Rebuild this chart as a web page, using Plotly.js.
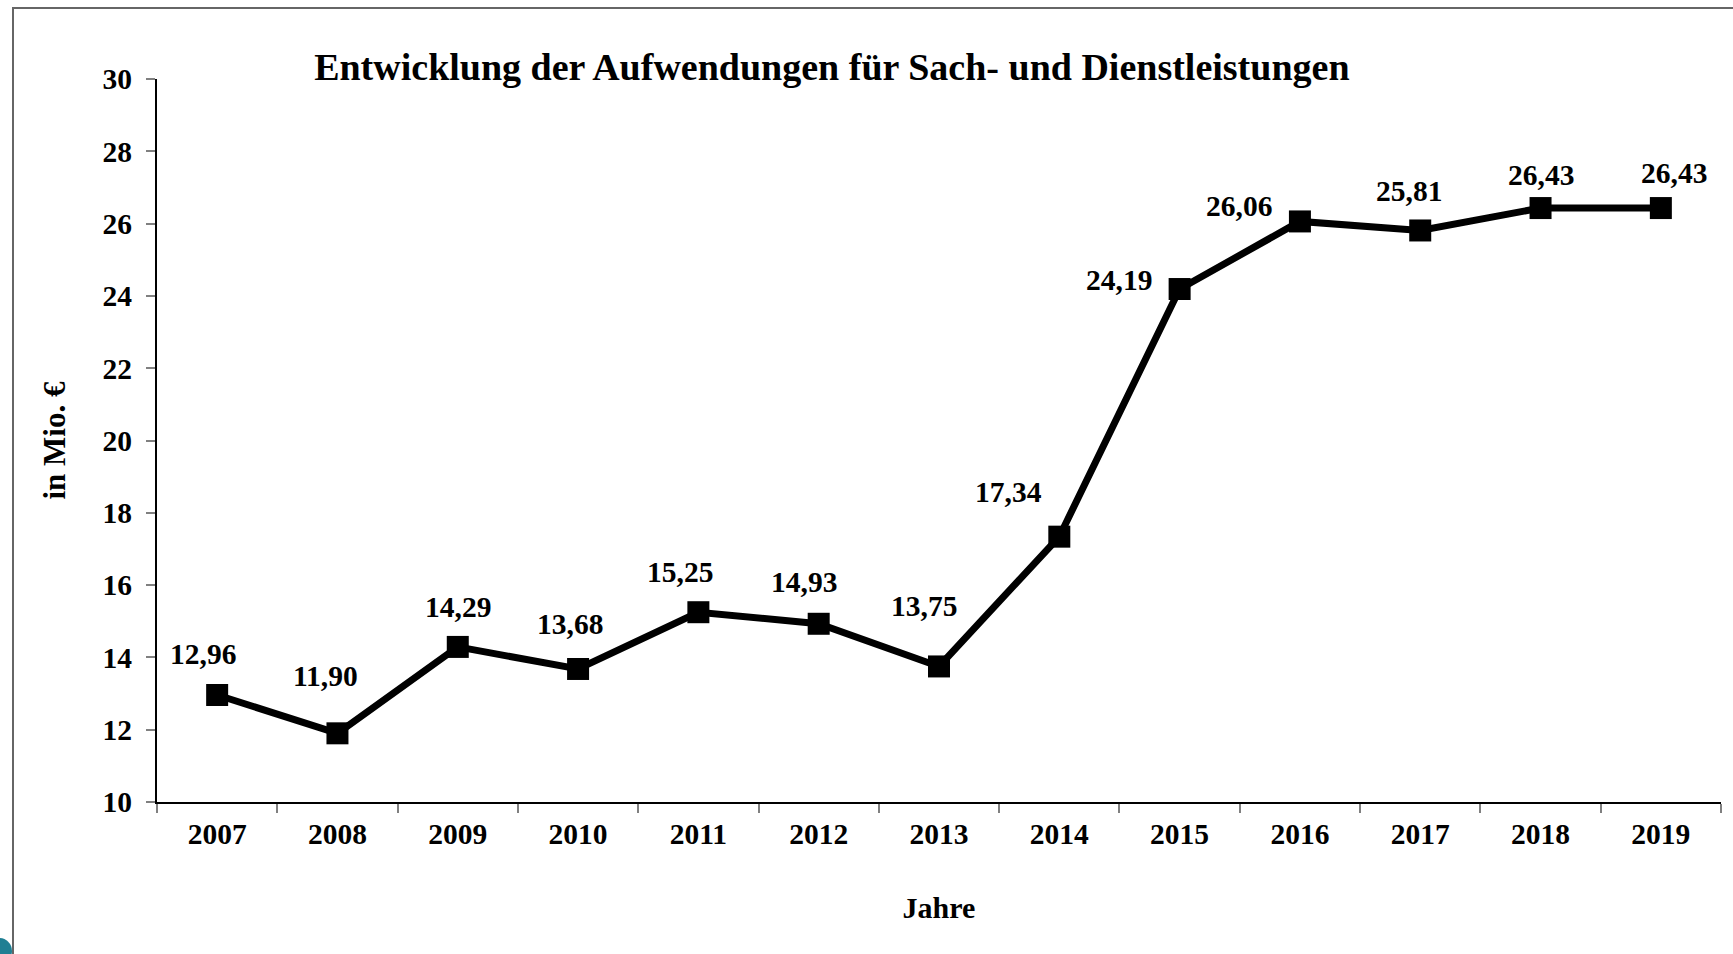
<!DOCTYPE html>
<html>
<head>
<meta charset="utf-8">
<script src="https://cdn.plot.ly/plotly-3.0.1.min.js"></script>
<style>
  html, body { margin: 0; padding: 0; background: #ffffff; }
  #wrap { position: relative; width: 1733px; height: 954px; overflow: hidden; }
  #chart { width: 1733px; height: 954px; }
  #frame { position: absolute; left: 12px; top: 7px; right: -5px; bottom: -5px;
           border-left: 2px solid #666666; border-top: 2px solid #666666; pointer-events: none; }
  #corner { position: absolute; left: -14px; bottom: -10px; width: 26px; height: 26px;
            border-radius: 50%; background: #1f7f93; pointer-events: none; }
</style>
</head>
<body>
<div id="wrap">
  <div id="chart"></div>
  <div id="frame"></div>
  <div id="corner"></div>
</div>
<script>
// ---- data ----
const years = ["2007","2008","2009","2010","2011","2012","2013","2014","2015","2016","2017","2018","2019"];
const values = [12.96, 11.90, 14.29, 13.68, 15.25, 14.93, 13.75, 17.34, 24.19, 26.06, 25.81, 26.43, 26.43];
const valueLabels = ["12,96","11,90","14,29","13,68","15,25","14,93","13,75","17,34","24,19","26,06","25,81","26,43","26,43"];

// label placement relative to each point (pixels)
const labelDx = [-14, -12, 0, -8, -18, -15, -15, -51, -61, -61, -11, 0, 13];
const labelDy = [41, 57, 40, 45, 40, 42, 60, 45, 9, 15, 39, 33, 35];

const serif = "Liberation Serif, Times New Roman, serif";

const trace = {
  type: "scatter",
  mode: "lines+markers",
  x: years,
  y: values,
  line: { color: "#000000", width: 7 },
  marker: { symbol: "square", size: 22, color: "#000000" },
  hoverinfo: "x+y",
  showlegend: false
};

// category axis: annotation x uses the category index of each year
const annotations = years.map((yr, i) => ({
  x: years.indexOf(yr), y: values[i], xref: "x", yref: "y",
  text: valueLabels[i], showarrow: false,
  xanchor: "center", yanchor: "middle",
  xshift: labelDx[i], yshift: labelDy[i],
  font: { family: serif, size: 29.5, color: "#000000", weight: "bold" }
}));

const layout = {
  width: 1733, height: 954,
  margin: { l: 157, r: 12, t: 79, b: 152 },
  paper_bgcolor: "#ffffff",
  plot_bgcolor: "#ffffff",
  title: {
    text: "Entwicklung der Aufwendungen für Sach- und Dienstleistungen",
    font: { family: serif, size: 38, color: "#000000", weight: "bold" },
    xref: "container", yref: "container",
    x: 0.480, xanchor: "center",
    y: 0.930, yanchor: "middle"
  },
  xaxis: {
    type: "category",
    range: [-0.5, 12.5],
    showgrid: false, zeroline: false,
    showline: true, linecolor: "#000000", linewidth: 2,
    ticks: "outside", tickson: "boundaries", ticklen: 9, tickcolor: "#808080", tickwidth: 2,
    tickfont: { family: serif, size: 29.5, color: "#000000", weight: "bold" },
    ticklabelstandoff: 5,
    title: { text: "Jahre", standoff: 48,
             font: { family: serif, size: 30, color: "#000000", weight: "bold" } },
    fixedrange: true
  },
  yaxis: {
    range: [10, 30],
    dtick: 2, tick0: 10,
    showgrid: false, zeroline: false,
    showline: true, linecolor: "#000000", linewidth: 2,
    ticks: "outside", ticklen: 9, tickcolor: "#808080", tickwidth: 2,
    tickfont: { family: serif, size: 29.5, color: "#000000", weight: "bold" },
    ticklabelstandoff: 8,
    title: { text: "in Mio. €", standoff: 28,
             font: { family: serif, size: 31, color: "#000000", weight: "bold" } },
    fixedrange: true
  },
  annotations: annotations
};

Plotly.newPlot("chart", [trace], layout, { displayModeBar: false, staticPlot: true });
</script>
</body>
</html>
